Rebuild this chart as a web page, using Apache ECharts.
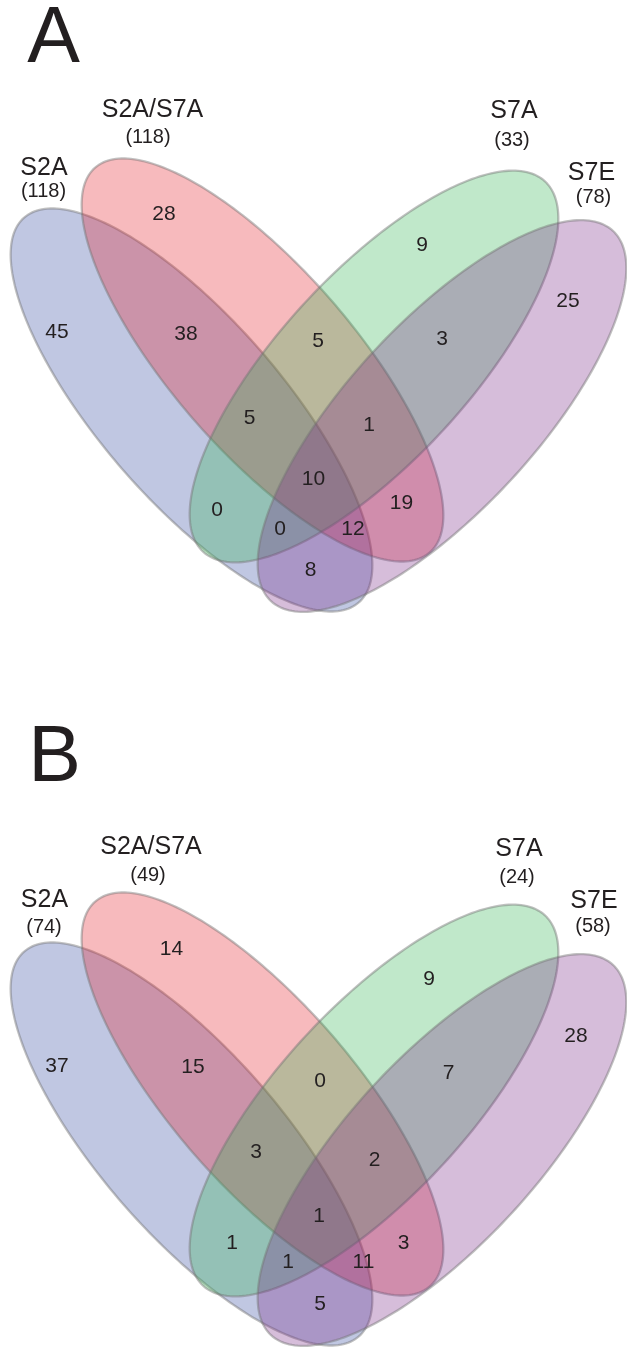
<!DOCTYPE html>
<html>
<head>
<meta charset="utf-8">
<script src="https://cdn.jsdelivr.net/npm/echarts@6/dist/echarts.min.js"></script>
<style>
  html, body { margin: 0; padding: 0; background: #ffffff; }
  #chart { width: 627px; height: 1347px; }
</style>
</head>
<body>
<div id="chart"></div>
<script>
// ---- data ----
const panelNames = ['A', 'B'];
const setNames = ['S2A', 'S2A/S7A', 'S7A', 'S7E'];
const setTotalsA = [118, 118, 33, 78];
const setTotalsB = [74, 49, 24, 58];
// region membership keys: S2A, S2A/S7A, S7A, S7E (1 = inside)
const regionKeys = ['1000', '0100', '0010', '0001', '1100', '0110', '0011', '1110',
                    '0111', '1111', '1010', '0101', '1011', '1101', '1001'];
const regionCountsA = [45, 28, 9, 25, 38, 5, 3, 5, 1, 10, 0, 19, 0, 12, 8];
const regionCountsB = [37, 14, 9, 28, 15, 0, 7, 3, 2, 1, 1, 3, 1, 11, 5];

// ---- layout (pixel units inside a panel) ----
const panelTop = [0, 734];
const letterPos = [[53.5, 40], [54.5, 759]];
const setColors = ['rgba(48,68,158,0.3)', 'rgba(228,28,38,0.3)',
                   'rgba(45,178,78,0.3)', 'rgba(118,38,131,0.3)'];
const ellipseShapes = [
  { cx: 191.5, cy: 410,   a: 255, b: 91, rot: 49 },
  { cx: 262.5, cy: 360,   a: 255, b: 91, rot: 49 },
  { cx: 374,   cy: 366.5, a: 252, b: 94, rot: 132.7 },
  { cx: 442,   cy: 416,   a: 252, b: 94, rot: 132.7 }
];
const setLabelPos = [
  [ [[44, 168.5], [43.5, 191]], [[152.5, 110], [148, 137.5]], [[514, 111.5], [512, 140.5]], [[591.5, 173], [593.5, 197]] ],
  [ [[44.5, 166], [44, 193.5]], [[151, 113.5], [148, 141]],  [[519, 115], [517, 143]],     [[594, 167], [593, 192]] ]
];
const regionPosA = [[57, 332], [164, 214.5], [422, 245], [568, 301.5], [186, 334], [318, 341.5],
  [442, 339.5], [249.5, 418], [369, 425.5], [313.5, 479.5], [217, 510.5], [401.5, 503.5],
  [280, 529.5], [353, 529], [310.5, 570.5]];
const regionPosB = [[57, 332], [171.5, 215.5], [429, 245.5], [576, 302], [193, 333.5], [320, 347],
  [448.5, 339], [256, 418.5], [374.5, 426.5], [319, 482], [232, 509], [403.5, 509],
  [288, 528.5], [363.5, 528.5], [320, 570.5]];

const FONT = '"Liberation Sans", Arial, Helvetica, sans-serif';
const TEXT_COLOR = '#231f20';

const setTotals = [setTotalsA, setTotalsB];
const regionCounts = [regionCountsA, regionCountsB];
const regionPos = [regionPosA, regionPosB];

// ellipse items: [panel, setIndex]
const ellipseData = [];
panelNames.forEach((p, pi) => setNames.forEach((s, si) => ellipseData.push([pi, si])));

// text items: [x, y, text, kind]
const textData = [];
panelNames.forEach((p, pi) => {
  textData.push([letterPos[pi][0], letterPos[pi][1], p, 'letter']);
  setNames.forEach((s, si) => {
    const [np, tp] = setLabelPos[pi][si];
    textData.push([np[0], np[1] + panelTop[pi], s, 'set']);
    textData.push([tp[0], tp[1] + panelTop[pi], '(' + setTotals[pi][si] + ')', 'total']);
  });
  regionKeys.forEach((k, ri) => {
    const pos = regionPos[pi][ri];
    textData.push([pos[0], pos[1] + panelTop[pi], String(regionCounts[pi][ri]), 'region']);
  });
});

const fontSize = { letter: 79, set: 25, total: 20, region: 21 };

const chart = echarts.init(document.getElementById('chart'), null, { renderer: 'canvas' });
chart.setOption({
  backgroundColor: '#ffffff',
  animation: false,
  grid: { left: 0, top: 0, right: 0, bottom: 0 },
  xAxis: { type: 'value', min: 0, max: 627, show: false },
  yAxis: { type: 'value', min: 0, max: 1347, inverse: true, show: false },
  series: [
    {
      type: 'custom',
      coordinateSystem: 'cartesian2d',
      data: ellipseData,
      silent: true,
      renderItem: function (params, api) {
        const pi = api.value(0), si = api.value(1);
        const e = ellipseShapes[si];
        const r = e.rot * Math.PI / 180;
        const cr = Math.cos(r), sr = Math.sin(r);
        const pts = [];
        for (let i = 0; i < 240; i++) {
          const t = i / 240 * Math.PI * 2;
          const ux = e.a * Math.cos(t), uy = e.b * Math.sin(t);
          const x = e.cx + ux * cr - uy * sr;
          const y = e.cy + panelTop[pi] + ux * sr + uy * cr;
          pts.push(api.coord([x, y]));
        }
        return {
          type: 'polygon',
          shape: { points: pts },
          style: { fill: setColors[si], stroke: 'rgba(115,115,115,0.45)', lineWidth: 2.3 }
        };
      }
    },
    {
      type: 'custom',
      coordinateSystem: 'cartesian2d',
      data: textData,
      silent: true,
      z: 10,
      renderItem: function (params, api) {
        const d = textData[params.dataIndex];
        const p = api.coord([d[0], d[1]]);
        return {
          type: 'text',
          x: p[0], y: p[1],
          style: {
            text: d[2],
            font: fontSize[d[3]] + 'px ' + FONT,
            fill: TEXT_COLOR,
            align: 'center',
            verticalAlign: 'middle'
          }
        };
      }
    }
  ]
});
</script>
</body>
</html>
